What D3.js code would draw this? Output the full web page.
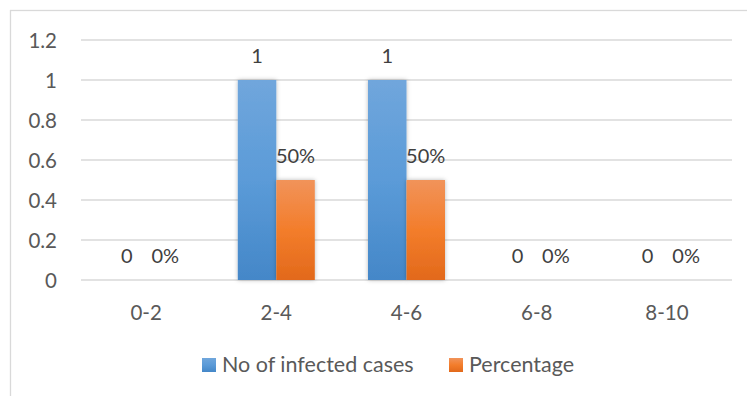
<!DOCTYPE html>
<html>
<head>
<meta charset="utf-8">
<script src="https://cdn.jsdelivr.net/npm/d3@7"></script>
<style>
  html, body { margin: 0; padding: 0; background: #fff; }
  svg { display: block; font-family: Lato, "Open Sans", sans-serif; }
</style>
</head>
<body>
<svg id="chart" width="747" height="396"></svg>
<script>
// Age groups and the two series drawn for each
const categories = ["0-2", "2-4", "4-6", "6-8", "8-10"];
const seriesNames = ["No of infected cases", "Percentage"];
const infectedCases = [0, 1, 1, 0, 0];
const percentage = [0, 0.5, 0.5, 0, 0];
const caseLabels = ["0", "1", "1", "0", "0"];
const percentLabels = ["0%", "50%", "50%", "0%", "0%"];
const yTicks = [0, 0.2, 0.4, 0.6, 0.8, 1, 1.2];

const svg = d3.select("#chart");
const plot = { left: 81, right: 732, top: 40, bottom: 280 };
const textColor = "#595959";

// outer frame of the chart area
svg.append("rect")
  .attr("x", 10.5).attr("y", 10.5)
  .attr("width", 800).attr("height", 420)
  .attr("fill", "none").attr("stroke", "#d9d9d9").attr("stroke-width", 1.3);

const defs = svg.append("defs");
const gradBlue = defs.append("linearGradient").attr("id", "gBlue")
  .attr("x1", 0).attr("y1", 0).attr("x2", 0).attr("y2", 1);
gradBlue.append("stop").attr("offset", "0%").attr("stop-color", "#70a6dc");
gradBlue.append("stop").attr("offset", "50%").attr("stop-color", "#5b9bd8");
gradBlue.append("stop").attr("offset", "100%").attr("stop-color", "#4487c8");
const gradOrange = defs.append("linearGradient").attr("id", "gOrange")
  .attr("x1", 0).attr("y1", 0).attr("x2", 0).attr("y2", 1);
gradOrange.append("stop").attr("offset", "0%").attr("stop-color", "#f1935a");
gradOrange.append("stop").attr("offset", "50%").attr("stop-color", "#f37d2b");
gradOrange.append("stop").attr("offset", "100%").attr("stop-color", "#e2691b");
const shadow = defs.append("filter").attr("id", "barShadow")
  .attr("x", "-30%").attr("y", "-10%").attr("width", "160%").attr("height", "120%");
shadow.append("feDropShadow").attr("dx", 0).attr("dy", 0)
  .attr("stdDeviation", 2).attr("flood-color", "#000").attr("flood-opacity", 0.28);

const y = d3.scaleLinear().domain([0, 1.2]).range([plot.bottom, plot.top]);
const x0 = d3.scaleBand().domain(categories).range([plot.left, plot.right]).padding(0);
const bw = x0.bandwidth();
const groupW = 77;
const x1 = d3.scaleBand().domain(seriesNames)
  .range([bw / 2 - groupW / 2, bw / 2 + groupW / 2]).padding(0);

// horizontal gridlines
svg.append("g").selectAll("line").data(yTicks).join("line")
  .attr("x1", plot.left).attr("x2", plot.right)
  .attr("y1", d => y(d)).attr("y2", d => y(d))
  .attr("stroke", "#d9d9d9").attr("stroke-width", 1.5);

// y axis labels
const yAxis = d3.axisLeft(y).tickValues(yTicks).tickSize(0).tickPadding(0)
  .tickFormat(d => d3.format("~g")(d));
const yg = svg.append("g").attr("transform", `translate(57,0)`).call(yAxis);
yg.select(".domain").remove();
yg.selectAll("text").attr("fill", textColor).attr("font-size", 20.5)
  .attr("font-family", "Lato, sans-serif").attr("dy", "0.36em");

// x axis labels
const xAxis = d3.axisBottom(x0).tickSize(0).tickPadding(0);
const xg = svg.append("g").attr("transform", `translate(0,${plot.bottom})`).call(xAxis);
xg.select(".domain").remove();
xg.selectAll("text").attr("fill", textColor).attr("font-size", 20.5)
  .attr("font-family", "Lato, sans-serif").attr("dy", "0").attr("y", 40);

const rows = categories.map((c, i) => ({
  cat: c,
  values: [
    { s: seriesNames[0], v: infectedCases[i], label: caseLabels[i], fill: "url(#gBlue)" },
    { s: seriesNames[1], v: percentage[i], label: percentLabels[i], fill: "url(#gOrange)" }
  ]
}));

const groups = svg.append("g").selectAll("g").data(rows).join("g")
  .attr("transform", d => `translate(${x0(d.cat)},0)`);

groups.selectAll("rect").data(d => d.values.filter(v => v.v > 0)).join("rect")
  .attr("x", d => x1(d.s)).attr("width", x1.bandwidth())
  .attr("y", d => y(d.v)).attr("height", d => y(0) - y(d.v))
  .attr("fill", d => d.fill).attr("filter", "url(#barShadow)");

groups.selectAll("text").data(d => d.values).join("text")
  .attr("x", d => x1(d.s) + x1.bandwidth() / 2)
  .attr("y", d => y(d.v) - 17)
  .attr("text-anchor", "middle")
  .attr("fill", "#404040").attr("font-size", 20)
  .text(d => d.label);

// legend
const legendItems = [
  { name: seriesNames[0], fill: "url(#gBlue)", x: 202 },
  { name: seriesNames[1], fill: "url(#gOrange)", x: 449 }
];
const lg = svg.append("g").selectAll("g").data(legendItems).join("g")
  .attr("transform", d => `translate(${d.x},358)`);
lg.append("rect").attr("width", 14).attr("height", 14).attr("fill", d => d.fill);
lg.append("text").attr("x", 20).attr("y", 14)
  .attr("fill", textColor).attr("font-size", 21.5)
  .text(d => d.name);
</script>
</body>
</html>
